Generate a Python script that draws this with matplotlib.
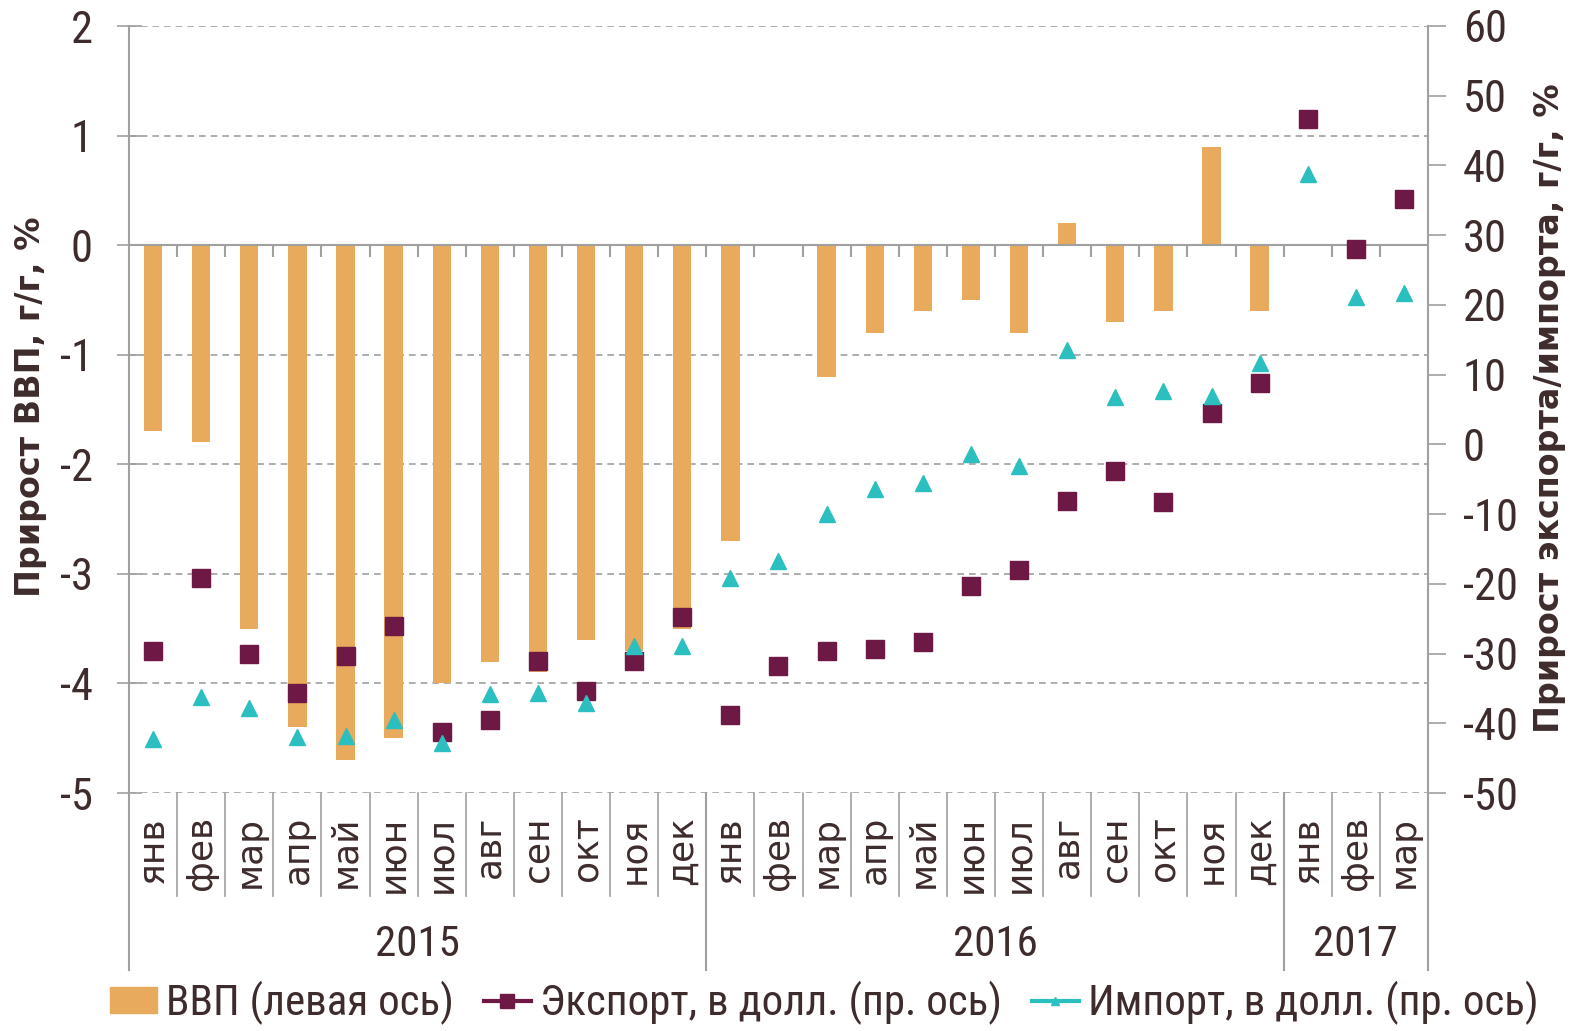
import numpy as np
import matplotlib.pyplot as plt
from matplotlib import font_manager
from matplotlib.patches import Patch
from matplotlib.lines import Line2D
from matplotlib.transforms import blended_transform_factory

months = ['янв', 'фев', 'мар', 'апр', 'май', 'июн', 'июл', 'авг', 'сен', 'окт', 'ноя', 'дек',
          'янв', 'фев', 'мар', 'апр', 'май', 'июн', 'июл', 'авг', 'сен', 'окт', 'ноя', 'дек',
          'янв', 'фев', 'мар']
years = ['2015', '2016', '2017']
year_len = [12, 12, 3]

# ВВП, г/г, % (левая ось)
gdp = [-1.7, -1.8, -3.5, -4.4, -4.7, -4.5, -4.0, -3.8, -3.9, -3.6, -3.7, -3.5,
       -2.7, np.nan, -1.2, -0.8, -0.6, -0.5, -0.8, 0.2, -0.7, -0.6, 0.9, -0.6,
       np.nan, np.nan, np.nan]
# экспорт, в долл., г/г, % (правая ось)
export = [-29.7, -19.2, -30.0, -35.6, -30.4, -26.0, -41.2, -39.6, -31.0, -35.3, -31.1, -24.7,
          -38.8, -31.8, -29.7, -29.3, -28.3, -20.3, -18.0, -8.1, -3.8, -8.3, 4.5, 8.8,
          46.6, 28.0, 35.2]
# импорт, в долл., г/г, % (правая ось)
imports = [-42.3, -36.2, -37.8, -41.9, -41.8, -39.6, -42.9, -35.8, -35.6, -37.1, -28.9, -28.9,
           -19.1, -16.7, -10.0, -6.4, -5.5, -1.4, -3.1, 13.6, 6.8, 7.6, 7.0, 11.6,
           38.8, 21.1, 21.7]

C_BAR = '#E8AA5C'
C_EXP = '#6E1846'
C_IMP = '#2CBFBF'
C_TXT = '#3E2C2C'
C_AX = '#A0A0A0'

plt.rcParams['axes.unicode_minus'] = False


def have(name):
    try:
        font_manager.findfont(name, fallback_to_default=False)
        return True
    except ValueError:
        return False


NARROW = have('Roboto Condensed')
NUM_FONT = ['Roboto Condensed', 'DejaVu Sans'] if NARROW else ['Roboto', 'DejaVu Sans']
NUM_SIZE = 31 if NARROW else 27
TICK_SIZE = 32 if NARROW else 28

W, H = 1577, 1031
fig = plt.figure(figsize=(W / 100, H / 100), dpi=100)


def fy(py):
    return 1 - py / H


ax = fig.add_axes([129 / W, fy(793), (1428 - 129) / W, (793 - 26) / H])
x = np.arange(len(months))
ax.bar(x, gdp, width=0.38, color=C_BAR, zorder=2)
ax.set_xlim(-0.5, len(months) - 0.5)
ax.set_ylim(-5, 2)
ax.set_yticks(range(-5, 3))
for v in range(-5, 3):
    if v != 0:
        ax.axhline(v, color=C_AX, lw=1.2, ls=(0, (4, 3)), zorder=1)
ax.axhline(0, color=C_AX, lw=1.5, zorder=3)
ax.vlines(np.arange(0.5, len(months) - 1), -0.11, 0, color=C_AX, lw=1.5, zorder=3)
ax.set_xticks([])
for s in ['top', 'bottom', 'right', 'left']:
    ax.spines[s].set_visible(False)
ax.tick_params(axis='y', direction='inout', length=18, width=1.2, color=C_AX,
               labelsize=TICK_SIZE, labelcolor=C_TXT, pad=17)
for t in ax.get_yticklabels():
    t.set_family(NUM_FONT)

ax2 = ax.twinx()
ax2.set_ylim(-50, 60)
ax2.set_yticks(range(-50, 61, 10))
ax2.plot(x, export, 's', ms=12.5, color=C_EXP, zorder=4)
ax2.plot(x, imports, '^', ms=12, color=C_IMP, zorder=5)
for s in ['top', 'bottom', 'right', 'left']:
    ax2.spines[s].set_visible(False)
ax2.tick_params(axis='y', direction='out', length=13, width=1.2, color=C_AX,
                labelsize=TICK_SIZE, labelcolor=C_TXT, pad=12)
for t in ax2.get_yticklabels():
    t.set_family(NUM_FONT)

fig.text(31 / W, fy(407), 'Прирост ВВП, г/г, %', rotation=90, ha='center', va='center',
         fontsize=24, fontweight='bold', color=C_TXT)
fig.text(1549 / W, fy(408), 'Прирост экспорта/импорта, г/г, %', rotation=90, ha='center',
         va='center', fontsize=24, fontweight='bold', color=C_TXT)

# category axis below the plot
tr = blended_transform_factory(ax.transData, fig.transFigure)
for b in np.arange(0.5, len(months) - 1):
    ax.plot([b, b], [fy(793), fy(896)], color=C_AX, lw=1.2, transform=tr, clip_on=False)
edges = np.concatenate([[0], np.cumsum(year_len)]) - 0.5
for e in edges:
    ax.plot([e, e], [fy(26) if e in (edges[0], edges[-1]) else fy(793), fy(970)],
            color=C_AX, lw=1.5, transform=tr, clip_on=False)
for i, m in enumerate(months):
    ax.text(i, fy(816), m, rotation=90, ha='center', va='top', fontsize=26,
            color=C_TXT, transform=tr)
for k, yl in enumerate(years):
    ax.text((edges[k] + edges[k + 1]) / 2, fy(944), yl, ha='center', va='center',
            fontsize=NUM_SIZE, color=C_TXT, family=NUM_FONT, transform=tr)

handles = [Patch(color=C_BAR),
           Line2D([], [], color=C_EXP, lw=3, marker='s', ms=10),
           Line2D([], [], color=C_IMP, lw=3, marker='^', ms=6)]
labels = ['ВВП (левая ось)', 'Экспорт, в долл. (пр. ось)', 'Импорт, в долл. (пр. ось)']
fig.legend(handles, labels, loc='center', bbox_to_anchor=(824 / W, fy(1003)), ncol=3,
           frameon=False, prop={'family': NUM_FONT, 'size': NUM_SIZE}, labelcolor=C_TXT,
           handlelength=1.1, handleheight=0.55, handletextpad=0.2, columnspacing=0.7,
           borderpad=0, borderaxespad=0)

fig.savefig('out.png', dpi=100)
